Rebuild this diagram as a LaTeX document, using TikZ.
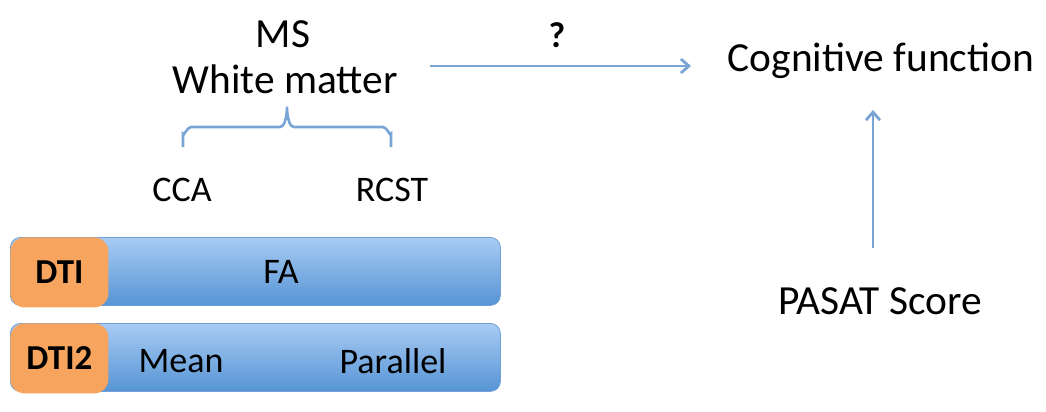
\documentclass[tikz,border=0pt]{standalone}
\usepackage{fontspec}
\setmainfont{Carlito}
\usetikzlibrary{positioning,arrows.meta}

\definecolor{barTop}{RGB}{168,203,243}    % haut des barres
\definecolor{barBottom}{RGB}{86,148,213}  % bas des barres
\definecolor{barEdge}{RGB}{112,160,214}
\definecolor{tagOrange}{RGB}{247,165,94}
\definecolor{linkBlue}{RGB}{122,163,214}

\begin{document}
\begin{tikzpicture}[x=0.5pt, y=-0.5pt,
    bar/.style={rounded corners=5pt, top color=barTop, bottom color=barBottom, draw=barEdge,
      minimum width=245pt, minimum height=34pt, anchor=north west, inner sep=0pt},
    tag/.style={rounded corners=7pt, fill=tagOrange, minimum width=49pt, minimum height=35pt,
      anchor=north west, inner sep=0pt, font=\fontsize{17.5}{20}\selectfont\bfseries},
    big/.style={font=\fontsize{20.7}{25}\selectfont},
    small/.style={font=\fontsize{18}{21}\selectfont},
    link/.style={-{Straight Barb[length=4pt,width=7pt]}, linkBlue, line width=1.4pt}
  ]
  \useasboundingbox (0,0) rectangle (1046,412);

  % --- Barres DTI ---
  \node[bar] (bar1) at (10,237) {};
  \node[bar] (bar2) at (10,323) {};
  \node[tag] (dti) at (10,237) {DTI};
  \node[tag] (dti2) at (10,323) {DTI2};
  \node[small] (fa) at (281,272) {FA};
  \node[small] (mean) at (181,361) {Mean};
  \node[small] (parallel) at (393,361) {Parallel};

  % --- Faisceaux ---
  \node[small] (cca) at (182,190) {CCA};
  \node[small] (rcst) at (392,190) {RCST};

  % --- Titre ---
  \node[big] (ms) at (283,34) {MS};
  \node[big] (wm) at (285,79) {White matter};

  % Accolade
  \draw[linkBlue, line width=1.3pt] (183,147) -- (183,134) to[out=-90,in=180] (191,127)
    -- (280,127) to[out=0,in=90] (287,108) to[out=90,in=180] (294,127)
    -- (383,127) to[out=0,in=-90] (391,134) -- (391,147);

  % --- Cible ---
  \node[big] (cog) at (881,61) {Cognitive function};
  \node[big] (pasat) at (880,301) {PASAT Score};

  \coordinate (src) at (430,66);
  \coordinate (dst) at (691,66);
  \coordinate (pbot) at (873,248);
  \coordinate (ptop) at (873,110);
  \draw[link] (src) -- (dst);
  \node[font=\fontsize{18}{21}\selectfont\bfseries] (q) at (557,35) {?};
  \draw[link] (pbot) -- (ptop);
\end{tikzpicture}
\end{document}
